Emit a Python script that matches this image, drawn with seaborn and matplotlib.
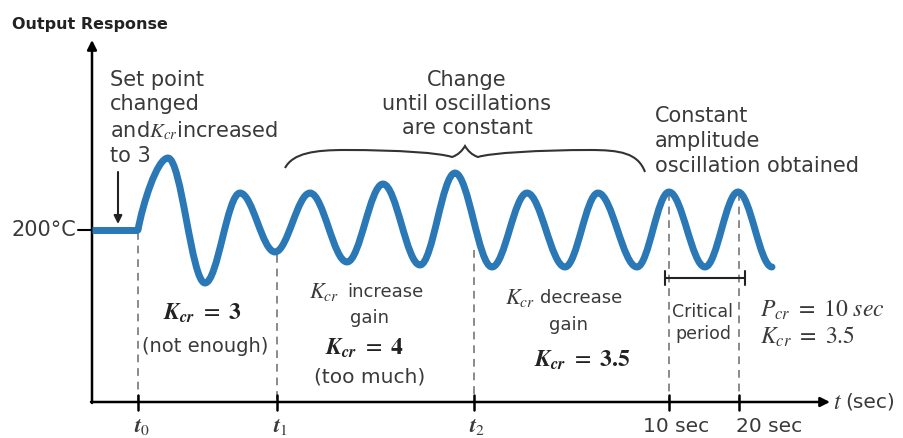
import numpy as np
import pandas as pd
import matplotlib.pyplot as plt
import seaborn as sns
from matplotlib.path import Path
from matplotlib.patches import PathPatch

# values (pixel-like units, y grows downward)
wave_t = [138, 168, 205, 240, 275, 310, 347, 383, 420, 455, 492, 527, 565, 598, 637, 669, 705, 738, 772]
wave_y = [230, 158, 283, 193, 252, 193, 262, 184, 265, 173, 267, 193, 267, 193, 267, 192, 267, 192, 267]
setpoint_t = [92, 138]
setpoint_y = [230, 230]

guide_t = [138, 277, 474, 669, 739]
guide_top = [232, 255, 250, 193, 193]
tick_labels = [r'$\mathbfit{t}_{0}$', r'$\mathbfit{t}_{1}$', r'$\mathbfit{t}_{2}$', '10 sec', '20 sec']
tick_label_x = [142, 280, 477, 676, 769]

period_start, period_end = 665, 745

sns.set_style('white')
plt.rcParams['font.family'] = ['DejaVu Sans']
plt.rcParams['mathtext.fontset'] = 'stix'

fig = plt.figure(figsize=(9.04, 4.38), dpi=100)
ax = fig.add_axes([0, 0, 1, 1])
ax.set_xlim(0, 904)
ax.set_ylim(438, 0)
ax.axis('off')

txt = '#3a3a3a'
blue = '#2a78b6'
axis_y = 402

# axes with arrows
ax.annotate('', xy=(92, 40), xytext=(92, axis_y + 1),
            arrowprops=dict(arrowstyle='-|>', color='black', lw=1.8, mutation_scale=14, shrinkA=0, shrinkB=0))
ax.annotate('', xy=(830, axis_y), xytext=(91, axis_y),
            arrowprops=dict(arrowstyle='-|>', color='black', lw=1.8, mutation_scale=14, shrinkA=0, shrinkB=0))
ax.text(12, 25, 'Output Response', fontsize=11.5, fontweight='bold', color='#222222', va='center', ha='left')
ax.text(833, axis_y, r'$t$', fontsize=17, color=txt, va='center', ha='left')
ax.text(845, axis_y, '(sec)', fontsize=14.5, color=txt, va='center', ha='left')

# guides and ticks
for t, top in zip(guide_t, guide_top):
    ax.plot([t, t], [top, axis_y], color='#8a8a8a', lw=1.4, ls=(0, (4, 3)), zorder=1)
    ax.plot([t, t], [axis_y - 7, axis_y + 8], color='black', lw=1.8)
for x, lab in zip(tick_label_x, tick_labels):
    fs = 16 if lab.startswith('$') else 14.5
    ax.text(x, 427, lab, fontsize=fs, color=txt, ha='center', va='center')

# setpoint level
ax.plot([78, 92], [230, 230], color='black', lw=1.5)
ax.text(12, 230, '200°C', fontsize=15, color=txt, va='center', ha='left')
sp = pd.DataFrame({'t': setpoint_t, 'y': setpoint_y})
sns.lineplot(data=sp, x='t', y='y', color=blue, lw=5, ax=ax, legend=False,
             solid_capstyle='butt', zorder=3)

# oscillating response: smooth segments between the read extrema
verts = [(wave_t[0], wave_y[0])]
codes = [Path.MOVETO]
for i in range(len(wave_t) - 1):
    x0, y0, x1, y1 = wave_t[i], wave_y[i], wave_t[i + 1], wave_y[i + 1]
    d = x1 - x0
    k0 = 0.15 if i == 0 else 0.364
    verts += [(x0 + k0 * d, y0 + (0.35 * (y1 - y0) if i == 0 else 0)), (x1 - 0.364 * d, y1), (x1, y1)]
    codes += [Path.CURVE4] * 3
ax.add_patch(PathPatch(Path(verts, codes), fill=False, edgecolor=blue, lw=5,
                       capstyle='round', joinstyle='round', zorder=3))

# annotations
ax.text(110, 118, 'Set point\nchanged\nand$K_{cr}$increased\nto 3', fontsize=15, color=txt,
        va='center', ha='left', linespacing=1.27)
ax.annotate('', xy=(118, 224), xytext=(118, 172),
            arrowprops=dict(arrowstyle='-|>', color='#222222', lw=1.5, mutation_scale=12, shrinkA=0, shrinkB=0))

ax.text(467, 104, 'Change\nuntil oscillations\nare constant', fontsize=15, color=txt,
        va='center', ha='center', linespacing=1.25)
brace = Path([(285, 168), (293, 153), (315, 150), (345, 150),
              (400, 150), (440, 153), (452, 157),
              (458, 155), (462, 151), (465, 146),
              (468, 151), (472, 155), (478, 157),
              (490, 153), (540, 150), (590, 150),
              (620, 150), (638, 153), (645, 172)],
             [Path.MOVETO] + [Path.CURVE4] * 18)
ax.add_patch(PathPatch(brace, fill=False, edgecolor='#333333', lw=1.5))

ax.text(655, 141, 'Constant\namplitude\noscillation obtained', fontsize=15, color=txt,
        va='center', ha='left', linespacing=1.3)

ax.text(203, 313, r'$\mathbfit{K}_{\mathbfit{cr}}\ =\ \mathbf{3}$', fontsize=17, color='#222222', ha='center', va='center')
ax.text(205, 347, '(not enough)', fontsize=14, color=txt, ha='center', va='center')

ax.text(309, 292, '$K_{cr}$', fontsize=16, color=txt, ha='left', va='center')
ax.text(347, 292, 'increase', fontsize=13, color=txt, ha='left', va='center')
ax.text(370, 318, 'gain', fontsize=13, color=txt, ha='center', va='center')
ax.text(365, 348, r'$\mathbfit{K}_{\mathbfit{cr}}\ =\ \mathbf{4}$', fontsize=17, color='#222222', ha='center', va='center')
ax.text(370, 377, '(too much)', fontsize=14.5, color=txt, ha='center', va='center')

ax.text(505, 298, '$K_{cr}$', fontsize=16, color=txt, ha='left', va='center')
ax.text(540, 298, 'decrease', fontsize=13, color=txt, ha='left', va='center')
ax.text(569, 325, 'gain', fontsize=13, color=txt, ha='center', va='center')
ax.text(582, 360, r'$\mathbfit{K}_{\mathbfit{cr}}\ =\ \mathbf{3.5}$', fontsize=17, color='#222222', ha='center', va='center')

ax.annotate('', xy=(period_end, 278), xytext=(period_start, 278),
            arrowprops=dict(arrowstyle='|-|', color='#222222', lw=1.5, mutation_scale=5, shrinkA=0, shrinkB=0))
ax.text(703, 323, 'Critical\nperiod', fontsize=12.5, color=txt, ha='center', va='center', linespacing=1.3)
ax.text(760, 310, r'$P_{cr}\ =\ 10\ sec$', fontsize=17, color=txt, ha='left', va='center')
ax.text(760, 337, r'$K_{cr}\ =\ 3.5$', fontsize=17, color=txt, ha='left', va='center')

fig.savefig('out.png', dpi=100)
